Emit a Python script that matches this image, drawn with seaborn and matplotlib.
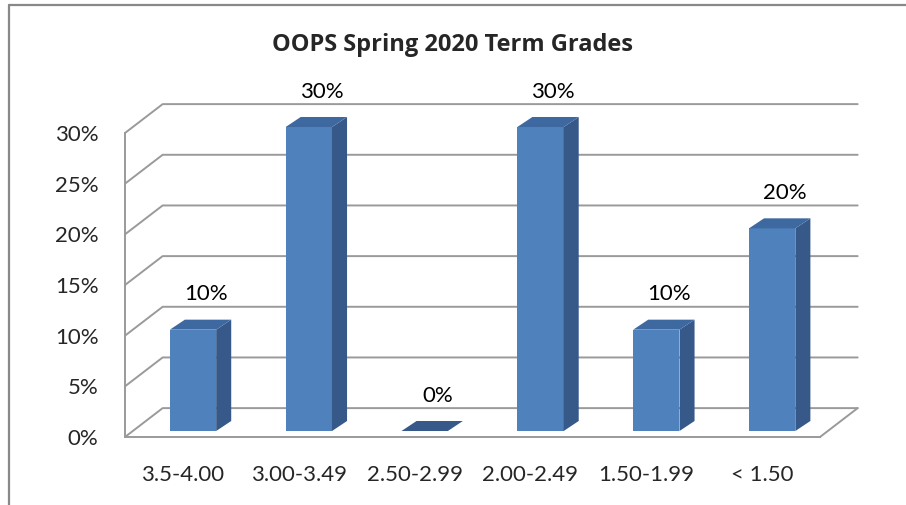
import matplotlib
matplotlib.use("Agg")
import matplotlib.pyplot as plt
from matplotlib.patches import Polygon
from matplotlib.lines import Line2D
import seaborn as sns
import pandas as pd

# Datos del gráfico
categorias = ["3.5-4.00", "3.00-3.49", "2.50-2.99", "2.00-2.49", "1.50-1.99", "< 1.50"]
porcentajes = [10, 30, 0, 30, 10, 20]
ticks_y = [0, 5, 10, 15, 20, 25, 30]
titulo = "OOPS Spring 2020 Term Grades"

sns.set_style("white")
plt.rcParams["font.family"] = ["Lato", "DejaVu Sans"]

# colores estilo Excel
azul = "#4F81BD"
azul_lado = "#36598A"
azul_tapa = "#3E69A0"
gris = "#9A9A9A"

# profundidad 3D (en unidades de datos)
DX, DY = 0.325, 2.85     # pared trasera
OX, OY = 0.087, 0.59     # cara frontal de la barra
BDX, BDY = 0.13, 0.99    # grosor de la barra

fig = plt.figure(figsize=(9.06, 5.05), dpi=100)
ax = fig.add_axes([125 / 906, (505 - 437) / 505, (820 - 125) / 906, (437 - 133) / 505])

df = pd.DataFrame({"rango": categorias, "pct": porcentajes})
sns.barplot(data=df, x="rango", y="pct", color=azul, width=0.4, saturation=1,
            ax=ax, zorder=3, edgecolor="none")

ax.set_xlim(-0.5, len(categorias) - 0.5)
ax.set_ylim(0, 30)
xmin, xmax = ax.get_xlim()

# rejilla 3D: pared lateral + pared trasera
for y in ticks_y:
    ax.add_line(Line2D([xmin, xmin + DX, xmax + DX], [y, y + DY, y + DY],
                       color=gris, lw=1.4, clip_on=False, zorder=1))
ax.add_line(Line2D([xmax, xmax + DX], [0, DY], color=gris, lw=1.4,
                   clip_on=False, zorder=1))

# barras con caras laterales y superiores
for p, v in zip(ax.patches, porcentajes):
    p.set_x(p.get_x() + OX)
    p.set_y(OY)
    p.set_clip_on(False)
    x0, x1 = p.get_x(), p.get_x() + p.get_width()
    y0, y1 = OY, OY + p.get_height()
    if v > 0:
        ax.add_patch(Polygon([(x1, y0), (x1 + BDX, y0 + BDY), (x1 + BDX, y1 + BDY), (x1, y1)],
                             closed=True, fc=azul_lado, ec="none", zorder=3, clip_on=False))
        tapa = azul_tapa
    else:
        p.set_visible(False)
        tapa = azul_lado
    ax.add_patch(Polygon([(x0, y1), (x0 + BDX, y1 + BDY), (x1 + BDX, y1 + BDY), (x1, y1)],
                         closed=True, fc=tapa, ec="none", zorder=3, clip_on=False))
    ax.text((x0 + x1) / 2 + 0.11, y1 + 3.5, f"{v}%", ha="center", va="center",
            fontsize=16, color="black", zorder=5)

# ejes
ax.set_yticks(ticks_y)
ax.set_yticklabels([f"{t}%" for t in ticks_y])
ax.set_xticks(range(len(categorias)))
ax.set_xticklabels(categorias)
ax.set_xticks([i - 0.5 for i in range(len(categorias) + 1)], minor=True)
ax.tick_params(axis="x", which="major", length=0, pad=20, labelsize=16)
ax.tick_params(axis="x", which="minor", length=6, width=1.4, color=gris, direction="out")
ax.tick_params(axis="y", length=6, width=1.4, color=gris, direction="out", pad=13, labelsize=16)
ax.set_xlabel("")
ax.set_ylabel("")
for s in ["top", "right"]:
    ax.spines[s].set_visible(False)
for s in ["left", "bottom"]:
    ax.spines[s].set_color(gris)
    ax.spines[s].set_linewidth(1.4)
ax.set_facecolor("none")

fig.text(453 / 906, 1 - 45 / 505, titulo, ha="center", va="center",
         fontsize=17, fontweight="bold", family=["Open Sans", "DejaVu Sans"])

# borde del área del gráfico
fig.add_artist(Line2D([9 / 906, 1], [1 - 5 / 505, 1 - 5 / 505], color="#888888", lw=1.6,
                      transform=fig.transFigure))
fig.add_artist(Line2D([9 / 906, 9 / 906], [0, 1 - 5 / 505], color="#888888", lw=1.6,
                      transform=fig.transFigure))

fig.savefig("out.png", dpi=100)
